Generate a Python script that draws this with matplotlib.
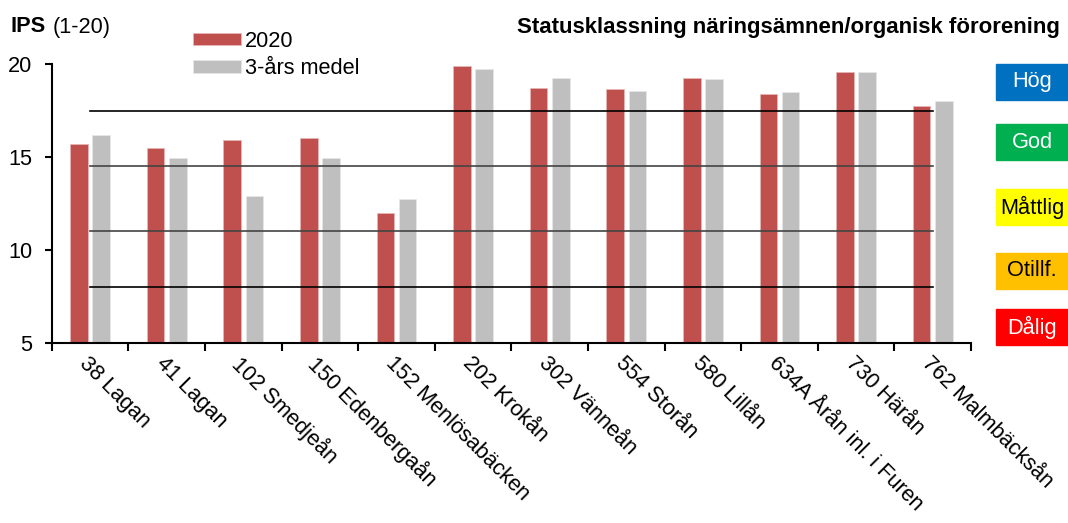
import matplotlib
matplotlib.use("Agg")
import matplotlib.pyplot as plt
from matplotlib.patches import Rectangle
import numpy as np

plt.rcParams['font.family'] = ['Liberation Sans', 'DejaVu Sans']

# data
stations = ['38 Lagan', '41 Lagan', '102 Smedjeån', '150 Edenbergaån', '152 Menlösabäcken',
            '202 Krokån', '302 Vänneån', '554 Storån', '580 Lillån', '634A Årån inl. i Furen',
            '730 Härån', '762 Malmbäcksån']
ips_2020 = [15.7, 15.47, 15.91, 16.02, 11.97, 19.9, 18.7, 18.68, 19.25, 18.39, 19.55, 17.74]
ips_3yr = [16.17, 14.93, 12.89, 14.93, 12.72, 19.75, 19.27, 18.53, 19.18, 18.5, 19.55, 18.01]
class_limits = [17.5, 14.5, 11, 8]

status_names = ['Hög', 'God', 'Måttlig', 'Otillf.', 'Dålig']
status_colors = ['#0070C0', '#00B050', '#FFFF00', '#FFC000', '#FF0000']
status_text = ['white', 'white', 'black', 'black', 'white']

W, H = 1068, 523
FS = 15.7
fig = plt.figure(figsize=(W / 100, H / 100), dpi=100)
ax = fig.add_axes([51.7 / W, 1 - 343 / H, (971 - 51.7) / W, (343 - 64) / H])

x = np.arange(len(stations)) + 0.5
bw = 0.23
ax.bar(x - 0.145, ips_2020, bw, color='#C0504D', label='2020', edgecolor='#E6B8B7', linewidth=0.5)
ax.bar(x + 0.145, ips_3yr, bw, color='#BFBFBF', label='3-års medel', edgecolor='#E8E8E8', linewidth=0.5)

line_colors = ['black', '#444444', '#444444', 'black']
for lim, lc in zip(class_limits, line_colors):
    ax.plot([0.5, 11.5], [lim, lim], color=lc, linewidth=1.2)

ax.set_xlim(0, len(stations))
ax.set_ylim(5, 20)
ax.set_yticks([5, 10, 15, 20])
ax.set_xticks(np.arange(len(stations) + 1))
ax.set_xticklabels([])
ax.set_xticks(x, minor=True)
ax.set_xticklabels(stations, minor=True, rotation=-45, ha='left', va='top',
                   rotation_mode='anchor', fontsize=FS)
ax.tick_params(axis='x', which='minor', length=0, pad=7)
ax.tick_params(axis='x', which='major', length=6, width=1.5, direction='out')
ax.tick_params(axis='y', length=5, width=1.5, direction='out', labelsize=FS, pad=9)
for s in ['top', 'right']:
    ax.spines[s].set_visible(False)
for s in ['left', 'bottom']:
    ax.spines[s].set_linewidth(1.5)

ax.legend(loc='upper left', bbox_to_anchor=(182 / W, 1 - 20 / H), bbox_transform=fig.transFigure,
          frameon=False, fontsize=FS, handlelength=2.2, handleheight=0.5,
          handletextpad=0.2, labelspacing=0.3, borderpad=0)

fig.text(11 / W, 1 - 27 / H, 'IPS', fontsize=FS, fontweight='bold', va='center')
fig.text(53 / W, 1 - 27 / H, '(1-20)', fontsize=FS, va='center')
fig.text(1060 / W, 1 - 27 / H, 'Statusklassning näringsämnen/organisk förorening',
         fontsize=16, fontweight='bold', ha='right', va='center')

box_tops = [64, 124, 189, 253, 309]
for name, col, tc, top in zip(status_names, status_colors, status_text, box_tops):
    fig.patches.append(Rectangle((996 / W, 1 - (top + 36) / H), 72 / W, 36 / H,
                                 transform=fig.transFigure, color=col, zorder=1))
    fig.text(1032 / W, 1 - (top + 18) / H, name, color=tc, fontsize=FS,
             ha='center', va='center')

fig.savefig('out.png', dpi=100)
